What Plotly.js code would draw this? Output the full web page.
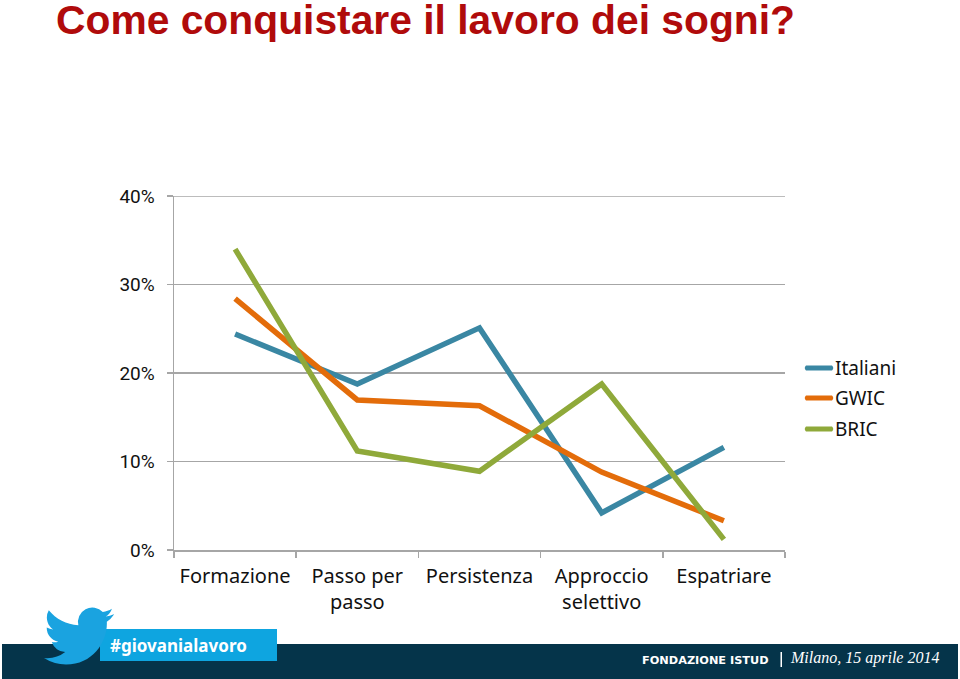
<!DOCTYPE html>
<html><head><meta charset="utf-8">
<script src="https://cdn.plot.ly/plotly-3.0.1.min.js"></script>
<style>html,body{margin:0;padding:0;background:#fff}#c{width:960px;height:679px}</style></head>
<body><div id="c"></div>
<script>
const categories = ["Formazione","Passo per<br>passo","Persistenza","Approccio<br>selettivo","Espatriare"];
const italiani = [24.4,18.75,25.1,4.2,11.6];
const gwic = [28.4,16.95,16.3,8.8,3.3];
const bric = [34,11.2,8.9,18.75,1.2];
const yTicks = [0,10,20,30,40];
const yLabels = ["0%","10%","20%","30%","40%"];
const seriesNames = ["Italiani","GWIC","BRIC"];
const seriesColors = ["#3A87A3","#E36C0A","#8FA93A"];

const L=174,R=785,T=196,B=550;
const px=x=>(x-L)/(R-L), py=y=>(B-y)/(B-T);
const FONT='"Noto Sans", sans-serif';
const GREY='#A6A6A6';
const mk=(i,y)=>({type:'scatter',mode:'lines',name:seriesNames[i],x:categories,y,showlegend:false,line:{color:seriesColors[i],width:5.5,shape:'linear'}});
const rect=(x0,y0,x1,y1,c)=>({type:'rect',xref:'paper',yref:'paper',x0:px(x0),x1:px(x1),y0:py(y0),y1:py(y1),fillcolor:c,line:{width:0},layer:'below'});
const pill=(x0,x1,y,c)=>{const h=2.5;const P=(a,b)=>px(a)+' '+py(b);
  return {type:'path',xref:'paper',yref:'paper',fillcolor:c,line:{width:0},layer:'above',
  path:'M '+P(x0,y-h)+' L '+P(x1,y-h)+' Q '+P(x1+h,y)+' '+P(x1,y+h)+' L '+P(x0,y+h)+' Q '+P(x0-h,y)+' '+P(x0,y-h)+' Z'};};
const txt=(text,x,y,size,color,family)=>({text,xref:'paper',yref:'paper',x:px(x),y:py(y),xanchor:'left',yanchor:'middle',showarrow:false,font:{size,color,family}});
const bird='data:image/svg+xml;utf8,'+encodeURIComponent('<svg xmlns="http://www.w3.org/2000/svg" viewBox="0 0 24 24"><path fill="#1AA3E0" d="M23.953 4.57a10 10 0 01-2.825.775 4.958 4.958 0 002.163-2.723c-.951.555-2.005.959-3.127 1.184a4.92 4.92 0 00-8.384 4.482C7.69 8.095 4.067 6.13 1.64 3.162a4.822 4.822 0 00-.666 2.475c0 1.71.87 3.213 2.188 4.096a4.904 4.904 0 01-2.228-.616v.06a4.923 4.923 0 003.946 4.827 4.996 4.996 0 01-2.212.085 4.936 4.936 0 004.604 3.417 9.867 9.867 0 01-6.102 2.105c-.39 0-.779-.023-1.17-.067a13.995 13.995 0 007.557 2.209c9.053 0 13.998-7.496 13.998-13.985 0-.21 0-.42-.015-.63A9.935 9.935 0 0024 4.59z"/></svg>');
const legendY=[368,398,429];

Plotly.newPlot('c',[mk(0,italiani),mk(1,gwic),mk(2,bric)],{
  width:960,height:679,autosize:false,showlegend:false,
  margin:{l:L,r:960-R,t:T,b:679-B,pad:0},
  paper_bgcolor:'#fff',plot_bgcolor:'rgba(0,0,0,0)',
  font:{family:FONT,size:20,color:'#111'},
  title:{text:'<b>Come conquistare il lavoro dei sogni?</b>',x:56/960,xanchor:'left',xref:'container',y:1-20/679,yanchor:'middle',yref:'container',font:{family:'"Liberation Sans",sans-serif',size:40.8,color:'#B00B0B'}},
  xaxis:{type:'category',categoryorder:'array',categoryarray:categories,range:[-0.5,4.5],tickson:'boundaries',ticks:'outside',ticklen:6,tickcolor:GREY,tickwidth:1.5,showgrid:false,showline:true,linecolor:GREY,linewidth:1.5,zeroline:false,tickangle:0,tickfont:{size:20,family:FONT,color:'#111'},ticklabelstandoff:7,fixedrange:true},
  yaxis:{range:[0,40],tickvals:yTicks,ticktext:yLabels,ticks:'outside',ticklen:6,tickcolor:GREY,tickwidth:1.5,showgrid:true,gridcolor:GREY,gridwidth:1.5,showline:true,linecolor:GREY,linewidth:1.5,zeroline:false,tickfont:{size:19,family:'Roboto, sans-serif',color:'#111'},ticklabelstandoff:8,fixedrange:true},
  shapes:[{type:'line',xref:'x domain',yref:'y',x0:0,x1:1,y0:40,y1:40,line:{color:GREY,width:1.5},layer:'below'},
    rect(2,644,958,679,'#05344A'),rect(100,629,277,661,'#0EA5E0'),rect(780.5,652,782,667,'#FFFFFF'),
    pill(806,832,legendY[0],seriesColors[0]),pill(806,832,legendY[1],seriesColors[1]),pill(806,832,legendY[2],seriesColors[2])],
  images:[{source:bird,xref:'paper',yref:'paper',x:px(44),y:py(601),sizex:70/(R-L),sizey:70/(B-T),sizing:'stretch',xanchor:'left',yanchor:'top',layer:'above'}],
  annotations:[
    txt('<b>#giovanialavoro</b>',108,645,17,'#FFFFFF','"Noto Sans",sans-serif'),
    txt('<b>FONDAZIONE ISTUD</b>',640,660,11.3,'#FFFFFF','"DejaVu Sans",sans-serif'),
    txt('<i>Milano, 15 aprile 2014</i>',788,658,16,'#FFFFFF','"Liberation Serif",serif'),
    txt(seriesNames[0],833,legendY[0],19,'#111',FONT),
    txt(seriesNames[1],833,legendY[1],19,'#111',FONT),
    txt(seriesNames[2],833,legendY[2],19,'#111',FONT)
  ]
},{staticPlot:true,displayModeBar:false});
</script></body></html>
